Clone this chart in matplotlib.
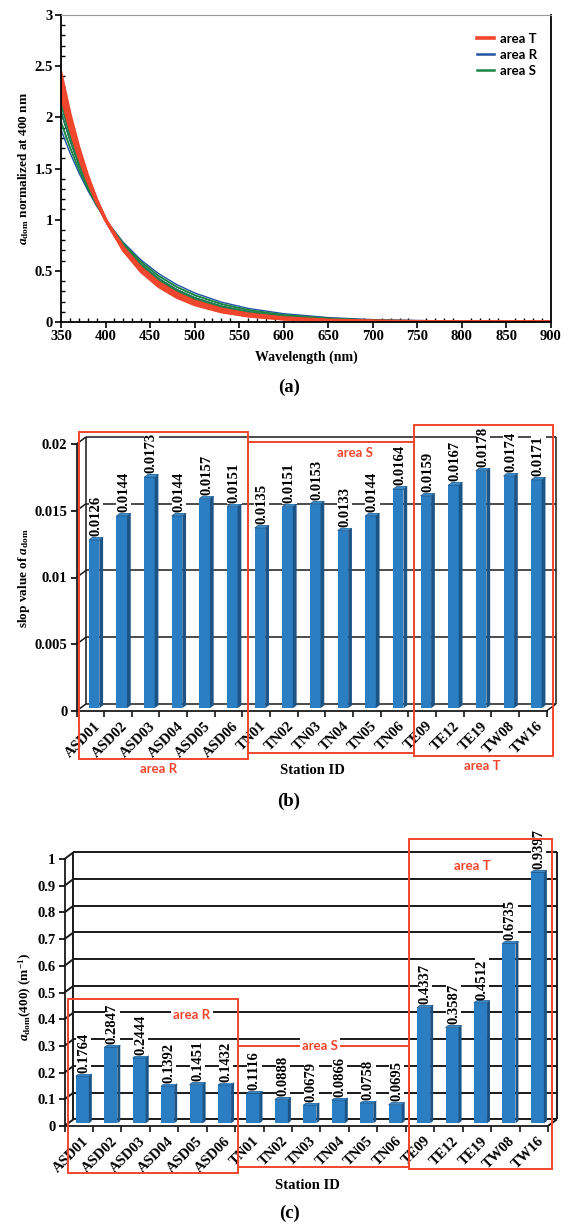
import numpy as np
import matplotlib.pyplot as plt
from matplotlib.patches import Rectangle, Polygon
from matplotlib.lines import Line2D
from matplotlib.ticker import MultipleLocator, FuncFormatter

plt.rcParams['font.family'] = ['Liberation Serif', 'DejaVu Sans']
plt.rcParams['font.weight'] = 'bold'
plt.rcParams['axes.labelweight'] = 'bold'
plt.rcParams['mathtext.fontset'] = 'custom'
plt.rcParams['mathtext.rm'] = 'Liberation Serif:bold'
plt.rcParams['mathtext.it'] = 'Liberation Serif:italic:bold'
plt.rcParams['mathtext.bf'] = 'Liberation Serif:bold'

# ---- data ----
stations = ['ASD01', 'ASD02', 'ASD03', 'ASD04', 'ASD05', 'ASD06',
            'TN01', 'TN02', 'TN03', 'TN04', 'TN05', 'TN06',
            'TE09', 'TE12', 'TE19', 'TW08', 'TW16']
slope = [0.0126, 0.0144, 0.0173, 0.0144, 0.0157, 0.0151,
         0.0135, 0.0151, 0.0153, 0.0133, 0.0144, 0.0164,
         0.0159, 0.0167, 0.0178, 0.0174, 0.0171]
a400 = [0.1764, 0.2847, 0.2444, 0.1392, 0.1451, 0.1432,
        0.1116, 0.0888, 0.0679, 0.0866, 0.0758, 0.0695,
        0.4337, 0.3587, 0.4512, 0.6735, 0.9397]

# normalized a_dom spectra
wavelength = [350, 360, 370, 380, 390, 400, 420, 440, 460, 480, 500,
              530, 560, 600, 650, 700, 800, 900]
spec_R = [
    [1.878, 1.655, 1.459, 1.287, 1.134, 1, 0.777, 0.604, 0.470, 0.365, 0.284, 0.194, 0.133, 0.081, 0.043, 0.023, 0.007, 0.002],
    [2.054, 1.779, 1.540, 1.334, 1.155, 1, 0.750, 0.562, 0.422, 0.316, 0.237, 0.154, 0.100, 0.056, 0.027, 0.013, 0.003, 0.001],
    [2.375, 1.998, 1.680, 1.413, 1.189, 1, 0.708, 0.501, 0.354, 0.251, 0.177, 0.106, 0.063, 0.031, 0.013, 0.006, 0.001, 0.000],
    [2.054, 1.779, 1.540, 1.334, 1.155, 1, 0.750, 0.562, 0.422, 0.316, 0.237, 0.154, 0.100, 0.056, 0.027, 0.013, 0.003, 0.001],
    [2.193, 1.874, 1.602, 1.369, 1.170, 1, 0.731, 0.534, 0.390, 0.285, 0.208, 0.130, 0.081, 0.043, 0.020, 0.009, 0.002, 0.000],
    [2.128, 1.829, 1.573, 1.353, 1.163, 1, 0.739, 0.547, 0.404, 0.299, 0.221, 0.140, 0.089, 0.049, 0.023, 0.011, 0.002, 0.001],
]
spec_S = [
    [1.964, 1.716, 1.499, 1.310, 1.145, 1, 0.763, 0.583, 0.445, 0.340, 0.259, 0.173, 0.115, 0.067, 0.034, 0.017, 0.005, 0.001],
    [2.128, 1.829, 1.573, 1.353, 1.163, 1, 0.739, 0.547, 0.404, 0.299, 0.221, 0.140, 0.089, 0.049, 0.023, 0.011, 0.002, 0.001],
    [2.149, 1.844, 1.583, 1.358, 1.165, 1, 0.736, 0.542, 0.399, 0.294, 0.217, 0.137, 0.087, 0.047, 0.022, 0.010, 0.002, 0.000],
    [1.944, 1.702, 1.490, 1.305, 1.142, 1, 0.767, 0.588, 0.450, 0.345, 0.265, 0.178, 0.119, 0.070, 0.036, 0.019, 0.005, 0.001],
    [2.054, 1.779, 1.540, 1.334, 1.155, 1, 0.750, 0.562, 0.422, 0.316, 0.237, 0.154, 0.100, 0.056, 0.027, 0.013, 0.003, 0.001],
    [2.271, 1.927, 1.636, 1.388, 1.178, 1, 0.720, 0.519, 0.374, 0.269, 0.194, 0.119, 0.073, 0.038, 0.017, 0.007, 0.001, 0.000],
]
spec_T = [
    [2.214, 1.889, 1.611, 1.374, 1.172, 1, 0.728, 0.529, 0.385, 0.280, 0.204, 0.127, 0.079, 0.042, 0.019, 0.009, 0.002, 0.000],
    [2.305, 1.950, 1.650, 1.397, 1.182, 1, 0.716, 0.513, 0.367, 0.263, 0.188, 0.114, 0.069, 0.035, 0.015, 0.007, 0.001, 0.000],
    [2.435, 2.038, 1.706, 1.428, 1.195, 1, 0.701, 0.491, 0.344, 0.241, 0.169, 0.099, 0.058, 0.028, 0.012, 0.005, 0.001, 0.000],
    [2.387, 2.006, 1.685, 1.416, 1.190, 1, 0.706, 0.499, 0.352, 0.249, 0.176, 0.104, 0.062, 0.031, 0.013, 0.005, 0.001, 0.000],
    [2.351, 1.982, 1.670, 1.408, 1.187, 1, 0.710, 0.505, 0.358, 0.255, 0.181, 0.108, 0.065, 0.033, 0.014, 0.006, 0.001, 0.000],
]

RED = '#F0462D'
BLUE = '#2152A3'
GREEN = '#1A8442'
BAR_FRONT = '#2A7EC1'
BAR_SIDE = '#1D5486'
BAR_TOP = '#3A8CCB'
GRID = '#1a1a1a'

W, H = 571, 1228
fig = plt.figure(figsize=(W / 100, H / 100), dpi=100)


def box(l, t, r, b):
    # pixel box -> figure fraction [left, bottom, width, height]
    return [l / W, 1 - b / H, (r - l) / W, (b - t) / H]


def fmt(v, p):
    return f'{v:g}'


def red_rect(l, t, r, b):
    fig.add_artist(Rectangle((l / W, 1 - b / H), (r - l) / W, (b - t) / H,
                             transform=fig.transFigure, fill=False,
                             edgecolor=RED, lw=1.4, zorder=10))


def red_text(x, y, s, bg=False):
    kw = dict(facecolor='white', edgecolor='none', pad=1.5) if bg else None
    fig.text(x / W, 1 - y / H, s, color=RED, family=['Lato', 'DejaVu Sans'],
             weight='bold', fontsize=9.5, ha='center', va='center',
             bbox=kw, zorder=11)


# ================= (a) =================
ax = fig.add_axes(box(61, 15, 551, 322))
for rows, col, lw in [(spec_R, BLUE, 1.0), (spec_S, GREEN, 1.0), (spec_T, RED, 2.2)]:
    for r in rows:
        ax.plot(wavelength, r, color=col, lw=lw)
ax.set_xlim(350, 900)
ax.set_ylim(0, 3)
ax.xaxis.set_major_locator(MultipleLocator(50))
ax.xaxis.set_minor_locator(MultipleLocator(10))
ax.yaxis.set_major_locator(MultipleLocator(0.5))
ax.yaxis.set_minor_locator(MultipleLocator(0.1))
ax.yaxis.set_major_formatter(FuncFormatter(fmt))
ax.tick_params(which='major', direction='out', length=4, width=1.2, labelsize=10.5, pad=2)
ax.tick_params(which='minor', direction='in', length=3, width=1)
ax.spines['top'].set_color('#999999')
ax.spines['top'].set_linewidth(0.8)
for s in ['left', 'right', 'bottom']:
    ax.spines[s].set_linewidth(1.3)
ax.set_xlabel('Wavelength (nm)', fontsize=10)
ax.xaxis.label.set_va('center')
ax.xaxis.set_label_coords(0.5, -0.114)
ax.set_ylabel(r'$a_{\mathrm{dom}}$ normalized at 400 nm', fontsize=9.5)
ax.yaxis.label.set_va('center')
ax.yaxis.set_label_coords(-0.0755, 0.5)
handles = [Line2D([], [], color=RED, lw=2.6), Line2D([], [], color=BLUE, lw=1.8),
           Line2D([], [], color=GREEN, lw=1.8)]
ax.legend(handles, ['area T', 'area R', 'area S'], loc='upper left',
          bbox_to_anchor=(470 / W, 1 - 26 / H), bbox_transform=fig.transFigure,
          frameon=False, borderpad=0, handlelength=1.3, handletextpad=0.45,
          labelspacing=0.32, prop=dict(family=['Lato', 'DejaVu Sans'], weight='bold', size=9.5))
fig.text(289 / W, 1 - 387 / H, '(a)', fontsize=13.5, ha='center', va='center')


# ================= 3-D style bar panels =================
def bar_panel(ax, values, ymax, step, dx, dy, w, bd, grid_lw):
    n = len(values)
    x = np.arange(n)
    ax.set_xlim(-0.5, n - 0.5)
    ax.set_ylim(0, ymax)
    ticks = np.arange(0, ymax + step / 2, step)
    kw = dict(color=GRID, lw=grid_lw, clip_on=False, solid_capstyle='butt', zorder=1)
    # back wall gridlines and left side wall edges
    for t in ticks:
        ax.plot([-0.5 + dx, n - 0.5 + dx], [t + dy, t + dy], **kw)
        ax.plot([-0.5, -0.5 + dx], [t, t + dy], **kw)
    ax.plot([-0.5 + dx, -0.5 + dx], [dy, ymax + dy], **kw)
    ax.plot([n - 0.5 + dx, n - 0.5 + dx], [dy, ymax + dy], **kw)
    ax.plot([n - 0.5, n - 0.5 + dx], [0, dy], **kw)
    # bars: front face, side face, top face
    ox, oy = 0.4 * dx, 0.4 * dy
    bdx, bdy = bd * dx, bd * dy
    ax.bar(x + ox, values, width=w, bottom=oy, color=BAR_FRONT, zorder=3, clip_on=False)
    for xi, v in zip(x, values):
        xl, xr = xi + ox - w / 2, xi + ox + w / 2
        top = v + oy
        ax.add_patch(Polygon([(xr, oy), (xr + bdx, oy + bdy), (xr + bdx, top + bdy), (xr, top)],
                             closed=True, facecolor=BAR_SIDE, edgecolor='none', zorder=3, clip_on=False))
        ax.add_patch(Polygon([(xl, top), (xr, top), (xr + bdx, top + bdy), (xl + bdx, top + bdy)],
                             closed=True, facecolor=BAR_TOP, edgecolor=BAR_SIDE, lw=0.5,
                             zorder=3, clip_on=False))
        ax.text(xi + ox + bdx / 2, top + bdy + 0.004 * ymax, f'{v}',
                rotation=90, ha='center', va='bottom', fontsize=10.5, zorder=4, clip_on=False,
                bbox=dict(facecolor='white', edgecolor='none', pad=0.6))
    # axes
    for s in ['top', 'right']:
        ax.spines[s].set_visible(False)
    for s in ['left', 'bottom']:
        ax.spines[s].set_linewidth(1.3)
        ax.spines[s].set_color(GRID)
    ax.set_yticks(ticks)
    ax.yaxis.set_major_formatter(FuncFormatter(fmt))
    ax.tick_params(axis='y', direction='out', length=4.5, width=1.2, labelsize=10.5, pad=2)
    ax.set_xticks(x + 0.12)
    ax.set_xticklabels(stations, rotation=45, ha='right', va='top', rotation_mode='anchor')
    ax.set_xticks(np.arange(-0.5, n), minor=True)
    ax.tick_params(axis='x', which='major', length=0, labelsize=10.5, pad=6)
    ax.tick_params(axis='x', which='minor', direction='out', length=4, width=1.1)
    ax.set_xlabel('Station ID', fontsize=10.5)
    ax.xaxis.label.set_va('center')


# ================= (b) =================
axb = fig.add_axes(box(76.5, 444, 546.5, 711))
bar_panel(axb, slope, 0.02, 0.005, 0.34, 0.000525, 0.38, 0.4, 1.1)
axb.xaxis.set_label_coords(0.503, -0.221)
axb.set_ylabel(r'slop value of $a_{\mathrm{dom}}$', fontsize=9.5)
axb.yaxis.label.set_va('center')
axb.yaxis.set_label_coords(-0.112, 0.498)
red_rect(79.3, 431.7, 248, 759)
red_rect(248, 441.7, 413.5, 753)
red_rect(413.5, 425, 552.5, 756)
red_text(355, 453, 'area S')
red_text(159, 769, 'area R')
red_text(482, 766, 'area T')
fig.text(289 / W, 1 - 801 / H, '(b)', fontsize=13.5, ha='center', va='center')

# ================= (c) =================
axc = fig.add_axes(box(64.5, 859, 548, 1126))
bar_panel(axc, a400, 1.0, 0.1, 0.316, 0.0251, 0.46, 0.33, 1.4)
axc.xaxis.set_label_coords(0.503, -0.221)
axc.set_ylabel(r'$a_{\mathrm{dom}}$(400) (m$^{\mathrm{-1}}$)', fontsize=9.5)
axc.yaxis.label.set_va('center')
axc.yaxis.set_label_coords(-0.080, 0.484)
red_rect(409, 839, 552.3, 1169)
red_rect(67.8, 999, 238.3, 1172.7)
red_rect(238.3, 1045.7, 409, 1166.7)
red_text(472.5, 866, 'area T')
red_text(192, 1015, 'area R', bg=True)
red_text(320, 1045.7, 'area S', bg=True)
fig.text(289 / W, 1 - 1213 / H, '(c)', fontsize=13.5, ha='center', va='center')

fig.savefig('out.png', dpi=100, facecolor='white')
